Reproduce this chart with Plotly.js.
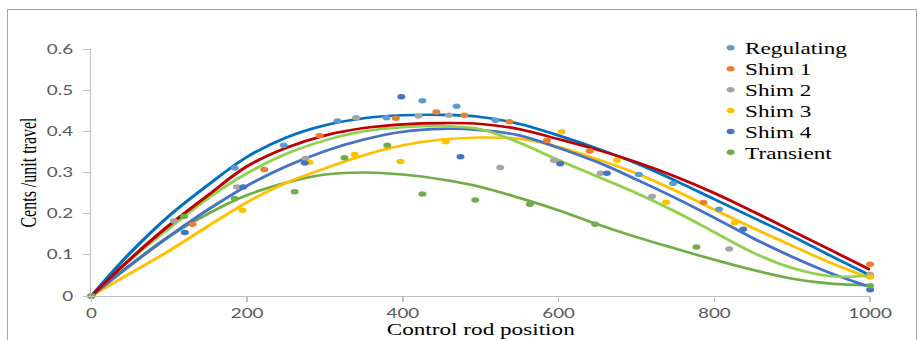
<!DOCTYPE html>
<html><head><meta charset="utf-8">
<script src="https://cdn.plot.ly/plotly-3.0.1.min.js"></script>
<style>
html,body{margin:0;padding:0;background:#fff;width:918px;height:340px;overflow:hidden;}
#frame{position:absolute;left:7px;top:9px;width:908px;height:340px;border:1px solid #a6a6a6;border-bottom:none;pointer-events:none;}
#wrap{position:absolute;left:0;top:0;width:633px;height:340px;transform:scaleX(1.4502);transform-origin:0 0;}
#chart{width:633px;height:340px;}
</style></head><body>
<div id="wrap"><div id="chart"></div></div>
<div id="frame"></div>
<script>
// Measured points
const regX = [0,184,247,316,379,425,469,519,703,747,806,1000];
const regY = [0,0.311,0.366,0.425,0.433,0.474,0.461,0.427,0.295,0.273,0.211,0.05];
const s1X = [0,130,222,293,391,443,479,537,585,640,786,1000];
const s1Y = [0,0.174,0.307,0.39,0.432,0.447,0.439,0.423,0.378,0.352,0.227,0.077];
const s2X = [0,106,187,275,340,420,459,525,594,654,720,819,1000];
const s2Y = [0,0.182,0.265,0.334,0.433,0.437,0.439,0.312,0.329,0.298,0.242,0.114,0.052];
const s3X = [0,194,280,338,397,455,604,675,738,826,1000];
const s3Y = [0,0.208,0.325,0.344,0.327,0.375,0.399,0.33,0.228,0.178,0.046];
const s4X = [0,120,195,274,398,474,602,662,837,1000];
const s4Y = [0,0.154,0.265,0.323,0.484,0.338,0.321,0.298,0.162,0.015];
const trX = [0,119,184,261,325,380,425,493,563,647,777,1000];
const trY = [0,0.193,0.237,0.253,0.336,0.366,0.248,0.233,0.223,0.174,0.119,0.025];

// Trendlines
const fitX = [0,50,100,150,200,250,300,350,400,450,500,550,600,650,700,750,800,850,900,950,1000];
const fitReg = [0,0.105,0.195,0.27,0.338,0.385,0.415,0.432,0.439,0.44,0.435,0.418,0.39,0.358,0.322,0.28,0.235,0.19,0.145,0.097,0.05];
const fitS1 = [0,0.09,0.172,0.245,0.315,0.36,0.39,0.408,0.417,0.42,0.418,0.405,0.381,0.355,0.325,0.29,0.25,0.205,0.158,0.111,0.064];
const fitS2 = [0,0.088,0.165,0.238,0.298,0.345,0.378,0.4,0.41,0.413,0.405,0.372,0.33,0.29,0.25,0.205,0.155,0.105,0.068,0.048,0.05];
const fitS3 = [0,0.055,0.11,0.17,0.228,0.275,0.31,0.342,0.366,0.38,0.385,0.382,0.362,0.332,0.298,0.256,0.21,0.165,0.122,0.08,0.044];
const fitS4 = [0,0.075,0.145,0.21,0.268,0.315,0.352,0.38,0.399,0.406,0.403,0.39,0.36,0.325,0.283,0.238,0.19,0.14,0.095,0.055,0.022];
const fitTr = [0,0.075,0.145,0.2,0.245,0.275,0.295,0.3,0.295,0.283,0.265,0.238,0.208,0.174,0.143,0.115,0.088,0.063,0.042,0.03,0.026];

const names = ['Regulating','Shim 1','Shim 2','Shim 3','Shim 4','Transient'];
const ptX = [regX,s1X,s2X,s3X,s4X,trX];
const ptY = [regY,s1Y,s2Y,s3Y,s4Y,trY];
const fits = [fitReg,fitS1,fitS2,fitS3,fitS4,fitTr];
const dotColors = ['#5B9BD5','#ED7D31','#A5A5A5','#FFC000','#4472C4','#70AD47'];
const lineColors = ['#0070C0','#C00000','#92D050','#FFC000','#4472C4','#70AD47'];

const traces = [];
const lineOrder = [5,3,4,2,0,1];
lineOrder.forEach(i => traces.push({
  x: fitX, y: fits[i], type:'scatter', mode:'lines', showlegend:false, hoverinfo:'skip',
  line:{color:lineColors[i], width:2.6, shape:'spline', smoothing:1}, cliponaxis:false
}));
names.forEach((n,i) => traces.push({
  x: ptX[i], y: ptY[i], type:'scatter', mode:'markers', name:n,
  marker:{color:dotColors[i], size:5.5}, cliponaxis:false
}));

const layout = {
  width:633, height:340,
  margin:{l:63, r:33, t:49, b:44},
  paper_bgcolor:'rgba(0,0,0,0)', plot_bgcolor:'rgba(0,0,0,0)',
  showlegend:true,
  legend:{x:0.765, y:1.073, xanchor:'left', yanchor:'top', bgcolor:'rgba(0,0,0,0)',
    font:{family:'Liberation Serif', size:16, color:'#000'}, tracegroupgap:0, itemwidth:30},
  xaxis:{range:[0,1000], tickvals:[0,200,400,600,800,1000], showgrid:false, zeroline:false,
    showline:true, linecolor:'#BFBFBF', linewidth:1, ticks:'outside', ticklen:5, tickcolor:'#BFBFBF',
    tickfont:{family:'Lato', size:13, color:'#595959'},
    title:{text:'Control rod position', font:{family:'Liberation Serif', size:16, color:'#000'}, standoff:2}},
  yaxis:{range:[0,0.6], tickvals:[0,0.1,0.2,0.3,0.4,0.5,0.6], ticktext:['0','0.1','0.2','0.3','0.4','0.5','0.6'],
    showgrid:false, zeroline:false,
    showline:true, linecolor:'#BFBFBF', linewidth:1, ticks:'outside', ticklen:5, tickcolor:'#BFBFBF',
    tickfont:{family:'Lato', size:13, color:'#595959'}, ticklabelstandoff:4,
    title:{text:'Cents /unit travel', font:{family:'Liberation Serif', size:16, color:'#000'}, standoff:2}}
};
Plotly.newPlot('chart', traces, layout, {displayModeBar:false, staticPlot:true}).then(gd => {
  // tighten legend rows and marker-to-text gap as in the original
  const items = gd.querySelectorAll('.legend .traces');
  let y0 = null;
  items.forEach((g, i) => {
    const t = g.getAttribute('transform') || '';
    const m = /translate\(\s*([-\d.e]+)[\s,]+([-\d.e]+)\s*\)/.exec(t);
    if (!m) return;
    const x = parseFloat(m[1]), y = parseFloat(m[2]);
    if (y0 === null) y0 = y;
    g.setAttribute('transform', 'translate(' + x + ',' + (y0 + i * 20.9) + ')');
    const sym = g.querySelector('.legendsymbols');
    if (sym) sym.setAttribute('transform', 'translate(10,0)');
  });
});
</script></body></html>
